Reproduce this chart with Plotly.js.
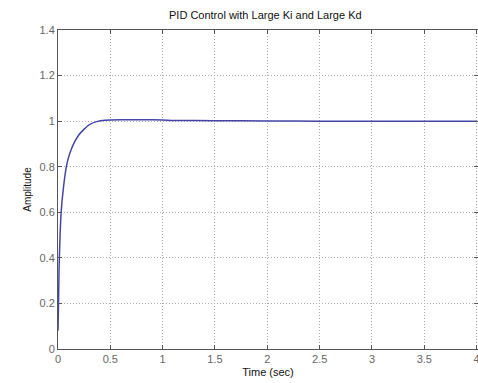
<!DOCTYPE html>
<html>
<head>
<meta charset="utf-8">
<script src="https://cdn.plot.ly/plotly-3.0.1.min.js"></script>
<style>html,body{margin:0;padding:0;background:#fff;}#chart{width:478px;height:383px;}</style>
</head>
<body>
<div id="chart"></div>
<script>
const timeSec = [0, 0.005, 0.01, 0.02, 0.03, 0.05, 0.08, 0.1, 0.13, 0.16, 0.2, 0.25, 0.3, 0.37, 0.45, 0.6, 0.8, 1.0, 1.1, 1.5, 2.0, 2.5, 3, 3.5, 4];
const amplitude = [0.08, 0.2, 0.35, 0.5, 0.6, 0.7, 0.8, 0.84, 0.88, 0.91, 0.94, 0.965, 0.985, 0.998, 1.004, 1.006, 1.006, 1.005, 1.003, 1.002, 1.001, 1.0, 1.0, 1.0, 1.0];
const xTicks = [0, 0.5, 1, 1.5, 2, 2.5, 3, 3.5, 4];
const xTickText = ['0', '0.5', '1', '1.5', '2', '2.5', '3', '3.5', '4'];
const yTicks = [0, 0.2, 0.4, 0.6, 0.8, 1, 1.2, 1.4];
const yTickText = ['0', '0.2', '0.4', '0.6', '0.8', '1', '1.2', '1.4'];

const axisCommon = {
  showline: true, linecolor: '#555', linewidth: 1, mirror: 'ticks',
  ticks: 'inside', ticklen: 4, tickcolor: '#555',
  showgrid: true, gridcolor: '#aaa', griddash: '1px,2px', gridwidth: 1,
  zeroline: false, tickfont: {family: 'Liberation Sans, Arial, sans-serif', size: 11, color: '#666'},
  ticklabeloverflow: 'allow'
};

Plotly.newPlot('chart', [{
  x: timeSec, y: amplitude, type: 'scatter', mode: 'lines',
  line: {color: '#4545a8', width: 1.5, shape: 'spline', smoothing: 0.6}
}], {
  width: 478, height: 383,
  margin: {l: 58, r: 0, t: 30, b: 34},
  paper_bgcolor: '#fff', plot_bgcolor: '#fff',
  showlegend: false,
  title: {text: 'PID Control with Large Ki and Large Kd', x: 0.555, xanchor: 'center', y: 0.96, yanchor: 'middle',
    font: {family: 'Liberation Sans, Arial, sans-serif', size: 11, color: '#111'}},
  xaxis: Object.assign({}, axisCommon, {range: [0, 4.013], tickvals: xTicks, ticktext: xTickText,
    title: {text: 'Time (sec)', standoff: 4, font: {family: 'Liberation Sans, Arial, sans-serif', size: 11, color: '#111'}}}),
  yaxis: Object.assign({}, axisCommon, {range: [0, 1.4], tickvals: yTicks, ticktext: yTickText,
    title: {text: 'Amplitude', standoff: 6, font: {family: 'Liberation Sans, Arial, sans-serif', size: 10, color: '#111'}}})
}, {displayModeBar: false, staticPlot: true});
</script>
</body>
</html>
